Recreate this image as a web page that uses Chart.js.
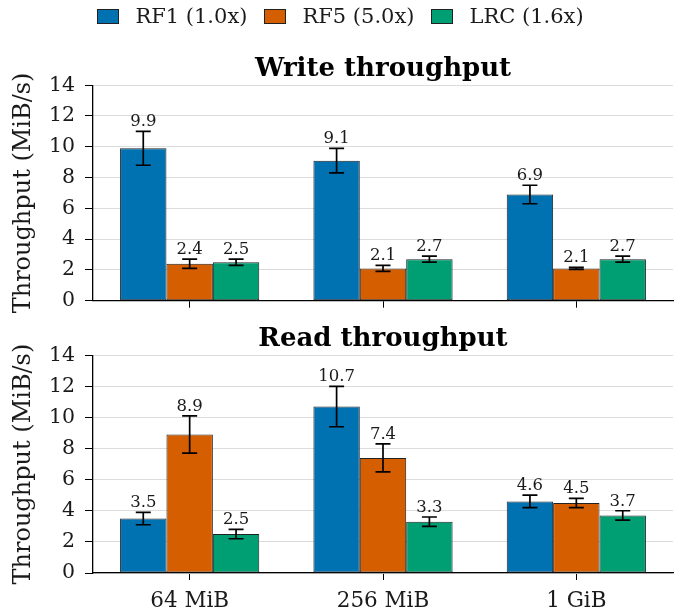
<!DOCTYPE html>
<html>
<head>
<meta charset="utf-8">
<script src="https://cdn.jsdelivr.net/npm/chart.js@4.4.0/dist/chart.umd.min.js"></script>
<style>
  body { margin: 0; background: #fff; }
  #wrap { position: relative; width: 681px; height: 612px; }
  canvas { position: absolute; left: 0; }
  #writeChart { top: 0; }
  #readChart { top: 311px; }
  #legend {
    position: absolute; left: 0; top: 0; width: 681px; height: 32px;
    display: flex; justify-content: center; align-items: center;
    font-family: 'DejaVu Serif'; font-size: 21px; color: #1a1a1a; z-index: 2;
  }
  #legend .item { display: flex; align-items: center; margin: 0 8.5px; }
  #legend .box { width: 20px; height: 13px; border: 1px solid #222; margin-right: 16px; }
</style>
</head>
<body>
<div id="wrap">
  <div id="legend"></div>
  <canvas id="writeChart" width="681" height="323"></canvas>
  <canvas id="readChart" width="681" height="301"></canvas>
</div>
<script>
// Data
const categories = ['64 MiB', '256 MiB', '1 GiB'];
const seriesNames = ['RF1 (1.0x)', 'RF5 (5.0x)', 'LRC (1.6x)'];
const colors = ['#0072B2', '#D55E00', '#009E73'];
const yTicks = [0, 2, 4, 6, 8, 10, 12, 14];

const writeRF1 = [9.9, 9.1, 6.9];
const writeRF1Err = [1.1, 0.8, 0.6];
const writeRF5 = [2.4, 2.1, 2.1];
const writeRF5Err = [0.3, 0.2, 0.07];
const writeLRC = [2.5, 2.7, 2.7];
const writeLRCErr = [0.2, 0.2, 0.2];

const readRF1 = [3.5, 10.7, 4.6];
const readRF1Err = [0.4, 1.3, 0.4];
const readRF5 = [8.9, 7.4, 4.5];
const readRF5Err = [1.2, 0.9, 0.3];
const readLRC = [2.5, 3.3, 3.7];
const readLRCErr = [0.3, 0.3, 0.3];

const FONT = 'DejaVu Serif';

// Legend (shared by both charts)
document.getElementById('legend').innerHTML = seriesNames.map((name, i) => `
    <div class="item"><span class="box" style="background:${colors[i]}"></span><span>${name}</span></div>`
).join('');

// Error bars + value labels
const errorBars = {
    id: 'errorBars',
    afterDatasetsDraw(chart) {
        const ctx = chart.ctx;
        const y = chart.scales.y;
        ctx.save();
        chart.data.datasets.forEach((ds, i) => {
            const meta = chart.getDatasetMeta(i);
            meta.data.forEach((bar, j) => {
                const v = ds.data[j];
                const e = ds.errors[j];
                const top = y.getPixelForValue(v + e);
                const bot = y.getPixelForValue(v - e);
                const x = bar.x;
                ctx.strokeStyle = '#000';
                ctx.lineWidth = 1.7;
                ctx.beginPath();
                ctx.moveTo(x, top); ctx.lineTo(x, bot);
                ctx.moveTo(x - 7.5, top); ctx.lineTo(x + 7.5, top);
                ctx.moveTo(x - 7.5, bot); ctx.lineTo(x + 7.5, bot);
                ctx.stroke();
                ctx.fillStyle = '#1a1a1a';
                ctx.font = '16.5px "' + FONT + '"';
                ctx.textAlign = 'center';
                ctx.textBaseline = 'alphabetic';
                ctx.fillText(v.toFixed(1), x, top - 5);
            });
        });
        ctx.restore();
    }
};

function makeDatasets(values, errors) {
    return values.map((vals, i) => ({
        label: seriesNames[i],
        data: vals,
        errors: errors[i],
        backgroundColor: colors[i],
        borderColor: '#222',
        borderWidth: 1,
        borderSkipped: false,
        categoryPercentage: 0.72,
        barPercentage: 1.0
    }));
}

function makeOptions(title, showXLabels, titlePad, xHeight) {
    return {
        responsive: false,
        animation: false,
        layout: { padding: { left: 0, right: 8, top: 0, bottom: 0 } },
        plugins: {
            legend: { display: false },
            title: {
                display: true,
                text: title,
                fullSize: false,
                color: '#000',
                font: { family: FONT, size: 26, weight: 'bold' },
                padding: titlePad
            },
            tooltip: { enabled: false }
        },
        scales: {
            x: {
                grid: { display: true, drawOnChartArea: false, drawTicks: true, tickLength: 7, offset: false, tickColor: '#000' },
                border: { display: true, color: '#000', width: 1.3 },
                ticks: { display: showXLabels, color: '#1a1a1a', font: { family: FONT, size: 21.5 }, padding: 9 },
                afterFit: s => { s.height = xHeight; }
            },
            y: {
                min: 0,
                max: 14,
                afterBuildTicks: s => { s.ticks = yTicks.map(v => ({ value: v })); },
                grid: { color: '#dcdcdc', lineWidth: 1, tickLength: 8, tickColor: '#000' },
                border: { display: true, color: '#000', width: 1.3 },
                ticks: { color: '#1a1a1a', font: { family: FONT, size: 20.5 }, padding: 10 },
                title: {
                    display: true,
                    text: 'Throughput (MiB/s)',
                    color: '#1a1a1a',
                    font: { family: FONT, size: 24 },
                    padding: { top: 9, bottom: 0 }
                },
                afterFit: s => { s.width = 93; }
            }
        }
    };
}

new Chart(document.getElementById('writeChart'), {
    type: 'bar',
    data: {
        labels: categories,
        datasets: makeDatasets([writeRF1, writeRF5, writeLRC], [writeRF1Err, writeRF5Err, writeLRCErr])
    },
    options: makeOptions('Write throughput', false, { top: 54, bottom: 0 }, 10),
    plugins: [errorBars]
});

new Chart(document.getElementById('readChart'), {
    type: 'bar',
    data: {
        labels: categories,
        datasets: makeDatasets([readRF1, readRF5, readLRC], [readRF1Err, readRF5Err, readLRCErr])
    },
    options: makeOptions('Read throughput', true, { top: 13, bottom: 0 }, 39),
    plugins: [errorBars]
});
</script>
</body>
</html>
